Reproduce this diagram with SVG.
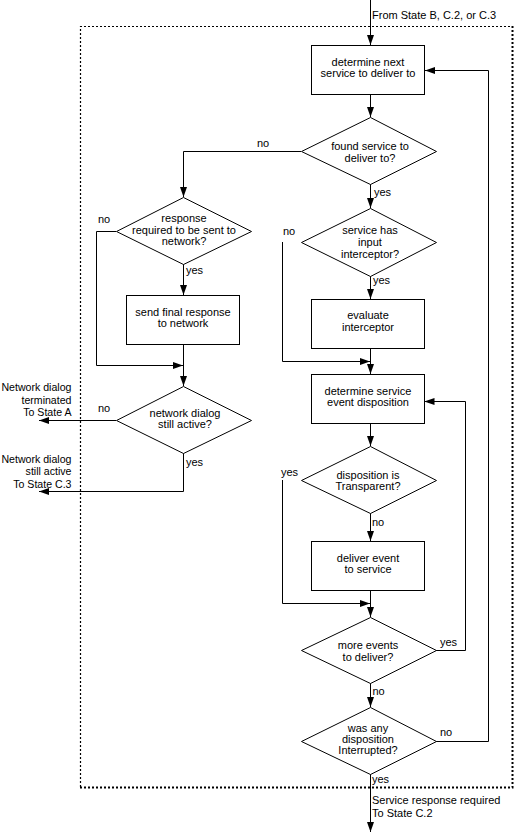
<svg xmlns="http://www.w3.org/2000/svg" width="516" height="833" viewBox="0 0 516 833">
<style>
  text { font-family: "Liberation Sans", Arial, sans-serif; font-size: 11px; fill: #000; }
  .c { text-anchor: middle; }
  .r { text-anchor: end; font-size: 10.6px; }
  .box { fill: #fff; stroke: #000; stroke-width: 1; }
  .ln { fill: none; stroke: #000; stroke-width: 1; }
  .arr { marker-end: url(#ah); }
</style>
<defs>
  <marker id="ah" markerUnits="userSpaceOnUse" markerWidth="10" markerHeight="7" refX="10" refY="3.5" orient="auto">
    <path d="M0,0 L10,3.5 L0,7 z" fill="#000"/>
  </marker>
</defs>
<rect width="516" height="833" fill="#fff"/>

<g id="boundary">
  <path d="M80.5,787 L80.5,26.5 L512,26.5" fill="none" stroke="#000" stroke-width="1.2" stroke-dasharray="2 2"/>
  <path d="M512.5,26 L512.5,787.5 L80,787.5" fill="none" stroke="#000" stroke-width="2" stroke-dasharray="2 2"/>
</g>

<g id="connectors">
  <path class="ln arr" d="M370.5,0 L370.5,45"/>
  <path class="ln arr" d="M370.5,94 L370.5,117"/>
  <path class="ln arr" d="M370.5,184 L370.5,208"/>
  <path class="ln arr" d="M370.5,276 L370.5,299"/>
  <path class="ln arr" d="M370.5,348 L370.5,374"/>
  <path class="ln arr" d="M282.5,242 L282.5,361.5 L370,361.5"/>
  <path class="ln arr" d="M370.5,423 L370.5,446"/>
  <path class="ln arr" d="M370.5,513 L370.5,541"/>
  <path class="ln arr" d="M370.5,591 L370.5,617"/>
  <path class="ln arr" d="M282.5,480 L282.5,603.5 L370,603.5"/>
  <path class="ln arr" d="M436,650.5 L465.5,650.5 L465.5,401.5 L424.5,401.5"/>
  <path class="ln arr" d="M370.5,683 L370.5,707"/>
  <path class="ln arr" d="M436,741.5 L488.5,741.5 L488.5,70.5 L425,70.5"/>
  <path class="ln arr" d="M370.5,774 L370.5,832"/>
  <path class="ln arr" d="M301,151.5 L183.5,151.5 L183.5,197"/>
  <path class="ln arr" d="M183.5,264 L183.5,295"/>
  <path class="ln arr" d="M183.5,344 L183.5,386"/>
  <path class="ln arr" d="M116,231.5 L96.5,231.5 L96.5,365.5 L183,365.5"/>
  <path class="ln arr" d="M116,420.5 L39,420.5"/>
  <path class="ln arr" d="M183.5,453 L183.5,491.5 L39,491.5"/>
</g>

<g id="labels">
  <text x="372" y="18.5">From State B, C.2, or C.3</text>
  <text x="374" y="195.5">yes</text>
  <text x="257" y="147">no</text>
  <text x="98" y="223">no</text>
  <text x="186" y="274">yes</text>
  <text x="98" y="411.5">no</text>
  <text x="186" y="466">yes</text>
  <text class="r" x="71.5" y="391">Network dialog</text>
  <text class="r" x="71.5" y="403.5">terminated</text>
  <text class="r" x="71.5" y="416">To State A</text>
  <text class="r" x="71.5" y="463">Network dialog</text>
  <text class="r" x="71.5" y="475">still active</text>
  <text class="r" x="71.5" y="487.5">To State C.3</text>
  <text x="283" y="234.5">no</text>
  <text x="373" y="284">yes</text>
  <text x="281" y="475.5">yes</text>
  <text x="372" y="525.5">no</text>
  <text x="440" y="645.5">yes</text>
  <text x="372.5" y="694.5">no</text>
  <text x="440" y="735.5">no</text>
  <text x="372" y="782.5">yes</text>
  <text x="372" y="803.5">Service response required</text>
  <text x="372" y="816.5">To State C.2</text>
</g>

<g id="n-determine-next">
  <rect class="box" x="311.5" y="45.5" width="113" height="49"/>
  <text class="c" x="368" y="65.5">determine next</text>
  <text class="c" x="368" y="77">service to deliver to</text>
</g>

<g id="n-found-service">
  <polygon class="box" points="370.5,117.5 436.5,151.5 370.5,184.5 301.5,151.5"/>
  <text class="c" x="370" y="150">found service to</text>
  <text class="c" x="370" y="162">deliver to?</text>
</g>

<g id="n-response-required">
  <polygon class="box" points="183.5,197.5 251.5,231.5 183.5,264.5 116.5,231.5"/>
  <text class="c" x="184" y="221.5">response</text>
  <text class="c" x="184" y="233.5">required to be sent to</text>
  <text class="c" x="184" y="245">network?</text>
</g>

<g id="n-send-final">
  <rect class="box" x="126.5" y="295.5" width="113" height="49"/>
  <text class="c" x="183" y="315.5">send final response</text>
  <text class="c" x="183" y="327">to network</text>
</g>

<g id="n-network-active">
  <polygon class="box" points="183.5,386.5 251.5,420.5 183.5,453.5 116.5,420.5"/>
  <text class="c" x="185" y="416.5">network dialog</text>
  <text class="c" x="185" y="428">still active?</text>
</g>

<g id="n-has-interceptor">
  <polygon class="box" points="370.5,208.5 436.5,242.5 370.5,276.5 301.5,242.5"/>
  <text class="c" x="370" y="233.5">service has</text>
  <text class="c" x="370" y="245.5">input</text>
  <text class="c" x="370" y="257.5">interceptor?</text>
</g>

<g id="n-evaluate">
  <rect class="box" x="311.5" y="299.5" width="113" height="49"/>
  <text class="c" x="368" y="319">evaluate</text>
  <text class="c" x="368" y="331">interceptor</text>
</g>

<g id="n-disposition">
  <rect class="box" x="311.5" y="374.5" width="113" height="49"/>
  <text class="c" x="368" y="394.5">determine service</text>
  <text class="c" x="368" y="406">event disposition</text>
</g>

<g id="n-transparent">
  <polygon class="box" points="370.5,446.5 436.5,480.5 370.5,513.5 301.5,480.5"/>
  <text class="c" x="368" y="478.5">disposition is</text>
  <text class="c" x="368" y="490">Transparent?</text>
</g>

<g id="n-deliver">
  <rect class="box" x="311.5" y="541.5" width="113" height="49"/>
  <text class="c" x="368" y="561.5">deliver event</text>
  <text class="c" x="368" y="572.5">to service</text>
</g>

<g id="n-more-events">
  <polygon class="box" points="370.5,617.5 436.5,650.5 370.5,683.5 301.5,650.5"/>
  <text class="c" x="368" y="649">more events</text>
  <text class="c" x="368" y="661">to deliver?</text>
</g>

<g id="n-interrupted">
  <polygon class="box" points="370.5,707.5 436.5,741.5 370.5,774.5 301.5,741.5"/>
  <text class="c" x="368" y="731.5">was any</text>
  <text class="c" x="368" y="742.5">disposition</text>
  <text class="c" x="368" y="754">Interrupted?</text>
</g>
</svg>
